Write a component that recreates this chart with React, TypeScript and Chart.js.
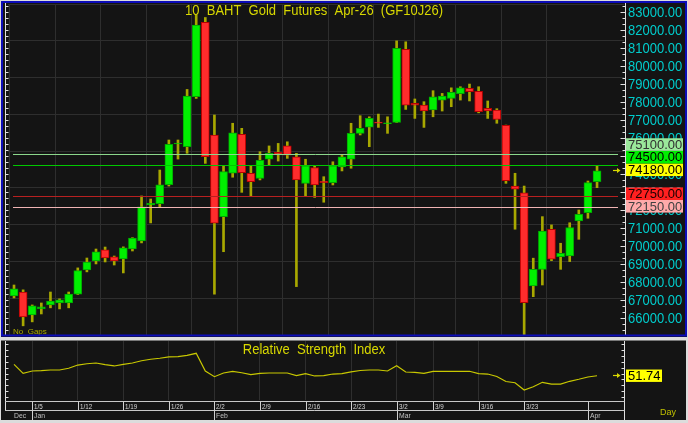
import React, { useEffect, useRef } from 'react';
import { Chart, registerables } from 'chart.js';

Chart.register(...registerables);

// ---------------- DATA ----------------
const dates = ['12/29','12/30','1/5','1/6','1/7','1/8','1/9','1/12','1/13','1/14','1/15','1/16','1/19','1/20','1/21','1/22','1/23','1/26','1/27','1/28','1/29','1/30','2/2','2/3','2/4','2/5','2/6','2/9','2/10','2/11','2/12','2/13','2/16','2/17','2/18','2/19','2/20','2/23','2/24','2/25','2/26','2/27','3/2','3/4','3/5','3/6','3/9','3/10','3/11','3/12','3/13','3/16','3/17','3/18','3/19','3/20','3/23','3/24','3/25','3/26','3/27','3/30','3/31','4/1','4/2'];

const opens = [67220,67440,66170,66500,66720,66830,66830,67320,68670,69170,69780,69390,69280,69830,70280,72280,72350,73400,75670,75520,78300,82430,76170,71630,74040,76200,74040,73760,74820,75200,75560,74960,73480,74350,73610,73520,74400,74820,76260,76610,76890,76800,76870,80930,77930,77830,77560,78110,78200,78460,78760,78590,77650,77560,76700,73330,72960,67780,68700,70930,69400,69440,71390,71850,73570];
const highs = [67830,67560,66720,66830,67440,67060,67440,68780,69330,69830,69940,69440,69950,70460,72780,72610,74220,75890,75890,78700,82830,82700,77280,74460,76820,76540,74440,75240,75560,75700,75790,75150,74820,74440,73850,74680,75050,76820,77240,77180,77330,77180,81400,81350,78170,78020,78630,78480,78790,78850,79000,78850,78060,77630,76720,74040,73330,69320,71630,71170,70150,71290,72000,73610,74440];
const lows = [67110,65560,65780,66220,66560,66500,66560,67300,68560,69000,69110,68940,68500,69720,70170,71280,72130,73330,74830,75150,78200,74590,67320,69680,73820,72980,72790,73670,74500,74720,74870,67740,72790,72700,72430,73390,74170,74320,76170,75520,76590,76260,76860,77590,77090,76590,77180,77500,77740,78110,78060,77400,77090,76820,73480,70930,65050,67180,67830,69180,68700,69130,70370,71540,73240];
const closes = [67610,66060,66670,66610,66940,67000,67330,68630,69110,69670,69330,69170,69890,70440,72180,72370,73400,75650,75720,78330,82280,74960,71260,74130,76290,74070,73570,74760,75150,75090,75040,73670,74460,73390,73520,74460,74960,76260,76540,77090,76820,76850,80980,77830,77820,77500,78290,78330,78540,78790,78570,77460,77500,77040,73630,73150,66850,68700,70830,69260,69590,71020,71760,73520,74180];

const rsi = [67.6,55.1,58.3,58.7,59.7,59.7,62.1,66.6,68.4,69.4,67.1,65.3,67.6,69.4,72.6,74.6,76.0,77.8,78.2,80.1,82.9,58.3,50.4,55.5,57.9,55.9,53.2,55.1,55.5,55.5,55.5,51.8,54.6,51.4,51.8,54.1,54.6,57.0,59.0,59.7,59.7,58.3,65.7,56.9,56.5,55.1,57.9,57.9,57.9,57.9,57.9,54.6,54.1,50.7,43.7,42.0,31.9,36.5,42.6,40.2,40.2,44.0,46.8,50.0,51.74];

const weekTicks = ['1/5','1/12','1/19','1/26','2/2','2/9','2/16','2/23','3/2','3/9','3/16','3/23'];
const monthNames = ['Dec','Jan','Feb','Mar','Apr'];
const monthStarts = ['12/29','1/5','2/2','3/2','4/1'];

const priceTicks = [83000,82000,81000,80000,79000,78000,77000,76000,75000,74000,73000,72000,71000,70000,69000,68000,67000,66000];
const levelValues = [75100, 74500, 72750, 72150];

const title = '10  BAHT  Gold  Futures  Apr-26  (GF10J26)';
const rsiTitle = 'Relative  Strength  Index';
const noGaps = 'No  Gaps';
const periodLabel = 'Day';

// ---------------- STYLE ----------------
const FONT = '"Liberation Sans", Arial, sans-serif';
const C = {
  frame: '#dcdcdc',
  bg: '#141414',
  blue: '#0c0cb8',
  grid: '#2e2e2e',
  up: '#00f000',
  upEdge: '#00a800',
  down: '#ff2c2c',
  downEdge: '#b80000',
  wick: '#a8a800',
  cyan: '#00cccc',
  yellow: '#d8d800',
  axis: '#e0e0e0',
  rsiLine: '#c8c800',
};
const levelStyles = [
  { line: '#8cd88c', box: '#9ae89a', text: '#303030' },
  { line: '#00c800', box: '#00ee00', text: '#000000' },
  { line: '#b82020', box: '#ff2020', text: '#1a0000' },
  { line: '#f0b4b4', box: '#ffaaaa', text: '#404040' },
];

const X_MIN = -0.66;
const X_MAX = 66.96;
const weekIdx = weekTicks.map((d) => dates.indexOf(d));
const monthIdx = monthStarts.map((d) => dates.indexOf(d));

function drawText(ctx: CanvasRenderingContext2D, s: string, x: number, y: number, size: number, color: string, align: CanvasTextAlign = 'left', sy = 1.1, sx = 1) {
  ctx.save();
  ctx.font = `${size}px ${FONT}`;
  ctx.fillStyle = color;
  ctx.textAlign = align;
  ctx.textBaseline = 'middle';
  ctx.translate(x, y);
  ctx.scale(sx, sy);
  ctx.fillText(s, 0, 0);
  ctx.restore();
}
function hline(ctx: CanvasRenderingContext2D, x1: number, x2: number, y: number, color: string, w = 1) {
  ctx.save();
  ctx.strokeStyle = color;
  ctx.lineWidth = w;
  ctx.beginPath();
  ctx.moveTo(x1, y);
  ctx.lineTo(x2, y);
  ctx.stroke();
  ctx.restore();
}
function vline(ctx: CanvasRenderingContext2D, x: number, y1: number, y2: number, color: string, w = 1) {
  ctx.save();
  ctx.strokeStyle = color;
  ctx.lineWidth = w;
  ctx.beginPath();
  ctx.moveTo(x, y1);
  ctx.lineTo(x, y2);
  ctx.stroke();
  ctx.restore();
}
function arrow(ctx: CanvasRenderingContext2D, x: number, y: number, color: string) {
  hline(ctx, x - 4, x + 1, y, color, 1.2);
  ctx.save();
  ctx.fillStyle = color;
  ctx.beginPath();
  ctx.moveTo(x, y - 2.5);
  ctx.lineTo(x + 3.5, y);
  ctx.lineTo(x, y + 2.5);
  ctx.closePath();
  ctx.fill();
  ctx.restore();
}

function xScaleOptions() {
  return {
    type: 'linear' as const,
    min: X_MIN,
    max: X_MAX,
    offset: false,
    afterBuildTicks: (s: any) => {
      s.ticks = weekIdx.map((v) => ({ value: v }));
    },
    grid: { color: C.grid, lineWidth: 1, drawTicks: false },
    border: { display: false },
    ticks: { display: false },
  };
}

// ---------------- MAIN CHART ----------------
const mainPlugin = {
  id: 'mainDecor',
  beforeDraw(chart: any) {
    const ctx = chart.ctx as CanvasRenderingContext2D;
    ctx.save();
    ctx.fillStyle = C.frame;
    ctx.fillRect(0, 0, chart.width, chart.height);
    ctx.fillStyle = C.bg;
    ctx.fillRect(1, 1, chart.width - 2, 336);
    ctx.restore();
  },
  afterDatasetsDraw(chart: any) {
    const ctx = chart.ctx as CanvasRenderingContext2D;
    const y = chart.scales.y;
    levelValues.forEach((v, i) => {
      const py = Math.round(y.getPixelForValue(v)) + 0.5;
      hline(ctx, 13, 618, py, levelStyles[i].line, 1);
    });
  },
  afterDraw(chart: any) {
    const ctx = chart.ctx as CanvasRenderingContext2D;
    const y = chart.scales.y;
    const area = chart.chartArea;
    // axes
    vline(ctx, 5.5, 3, area.bottom, C.axis, 1);
    vline(ctx, 625.5, 3, area.bottom, C.axis, 1);
    for (let v = 65000; v <= 83500; v += 1000 / 3) {
      const py = Math.round(y.getPixelForValue(v)) + 0.5;
      if (py < 4 || py > area.bottom) continue;
      const major = Math.abs(v / 1000 - Math.round(v / 1000)) < 0.01;
      hline(ctx, 5.5, 8.5, py, C.axis, 1);
      hline(ctx, major ? 620.5 : 622.5, 625.5, py, C.axis, 1);
    }
    // price labels
    priceTicks.forEach((v) => {
      drawText(ctx, v.toFixed(2), 628, y.getPixelForValue(v) + 1, 13, C.cyan, 'left', 1.08);
    });
    // level boxes
    const lastClose = closes[closes.length - 1];
    const boxes = [
      ...levelValues.map((v, i) => ({ v, bg: levelStyles[i].box, fg: levelStyles[i].text })),
      { v: lastClose, bg: '#ffff00', fg: '#000000' },
    ].sort((a, b) => a.v - b.v);
    let prevTop = Infinity;
    const h = 12.6;
    boxes.forEach((b) => {
      const py = y.getPixelForValue(b.v) - 1;
      let bottom = py + h / 2;
      if (bottom > prevTop) bottom = prevTop;
      const top = bottom - h;
      ctx.fillStyle = b.bg;
      ctx.fillRect(626, top, 57, h);
      drawText(ctx, b.v.toFixed(2), 628, top + h / 2 + 0.5, 13, b.fg, 'left', 1.05);
      prevTop = top;
    });
    arrow(ctx, 617, Math.round(y.getPixelForValue(lastClose)) - 0.5, C.yellow);
    // title
    drawText(ctx, title, 314, 10.5, 13, C.yellow, 'center', 1.15);
    drawText(ctx, noGaps, 13, 332, 8, '#a8a800', 'left', 1.0);
    // blue frame
    ctx.save();
    ctx.strokeStyle = C.blue;
    ctx.lineWidth = 2;
    ctx.strokeRect(2, 2, 684, 333.5);
    ctx.restore();
  },
};

function mainConfig(): any {
  return {
    type: 'bar',
    data: {
      datasets: [
        {
          label: 'body',
          data: dates.map((_, i) => ({ x: i, y: [opens[i], closes[i]] })),
          backgroundColor: closes.map((c, i) => (c >= opens[i] ? C.up : C.down)),
          borderColor: closes.map((c, i) => (c >= opens[i] ? C.upEdge : C.downEdge)),
          borderWidth: 1,
          borderSkipped: false,
          barThickness: 8,
          grouped: false,
        },
        {
          label: 'wick',
          data: dates.map((_, i) => ({ x: i, y: [lows[i], highs[i]] })),
          backgroundColor: C.wick,
          borderWidth: 0,
          barThickness: 2,
          grouped: false,
        },
      ],
    },
    options: {
      responsive: false,
      devicePixelRatio: 1,
      animation: false,
      events: [],
      layout: { padding: { left: 8, right: 64, top: 4, bottom: 3 } },
      plugins: { legend: { display: false }, tooltip: { enabled: false }, title: { display: false } },
      scales: {
        x: xScaleOptions(),
        y: {
          type: 'linear',
          min: 65050,
          max: 83450,
          grid: { color: C.grid, lineWidth: 1, drawTicks: false },
          border: { display: false },
          ticks: { display: false, stepSize: 2000, includeBounds: false },
        },
      },
    },
    plugins: [mainPlugin],
  };
}

// ---------------- RSI CHART ----------------
const rsiPlugin = {
  id: 'rsiDecor',
  beforeDraw(chart: any) {
    const ctx = chart.ctx as CanvasRenderingContext2D;
    ctx.save();
    ctx.fillStyle = C.frame;
    ctx.fillRect(0, 0, chart.width, chart.height);
    ctx.fillStyle = C.bg;
    ctx.fillRect(1, 2.5, 685, 79.5);
    ctx.restore();
  },
  afterDraw(chart: any) {
    const ctx = chart.ctx as CanvasRenderingContext2D;
    const x = chart.scales.x;
    const y = chart.scales.y;
    const area = chart.chartArea;
    // axes
    vline(ctx, 5.5, 3, 72.5, C.axis, 1);
    vline(ctx, 624.5, 3, 82, C.axis, 1);
    for (let py = area.top + 3; py < area.bottom; py += 5.9) {
      const p = Math.round(py) + 0.5;
      hline(ctx, 5.5, 8.5, p, C.axis, 1);
      hline(ctx, 621.5, 624.5, p, C.axis, 1);
    }
    // date axis
    hline(ctx, 5, 624.5, 63.5, '#c8c8c8', 1);
    hline(ctx, 5, 624.5, 72.5, '#c8c8c8', 1);
    weekIdx.forEach((idx, k) => {
      const px = Math.round(x.getPixelForValue(idx)) + 0.5;
      vline(ctx, px, 63.5, 72.5, '#d0d0d0', 1);
      drawText(ctx, weekTicks[k], px + 1.5, 68.5, 8, '#d8d8d8', 'left', 1.0, 0.78);
    });
    monthIdx.forEach((idx, k) => {
      const px = Math.round(x.getPixelForValue(idx)) + 0.5;
      if (k > 0) {
        vline(ctx, px, 63.5, 82, '#d0d0d0', 1);
        drawText(ctx, monthNames[k], px + 1.5, 77.5, 8, '#c0c0c0', 'left', 1.0, 0.85);
      } else {
        drawText(ctx, monthNames[k], 14, 77.5, 8, '#c0c0c0', 'left', 1.0, 0.85);
      }
    });
    // title
    drawText(ctx, rsiTitle, 314, 12, 13, C.yellow, 'center', 1.15);
    // value box
    const last = rsi[rsi.length - 1];
    const py = y.getPixelForValue(last);
    ctx.fillStyle = '#ffff00';
    ctx.fillRect(626, py - 6.2, 36, 12.4);
    drawText(ctx, last.toFixed(2), 628, py + 0.5, 13, '#000000', 'left', 1.05);
    arrow(ctx, 617, Math.round(py) - 0.5, C.yellow);
    drawText(ctx, periodLabel, 660, 74, 9, '#c0c000', 'left', 1.05);
  },
};

function rsiConfig(): any {
  return {
    type: 'line',
    data: {
      datasets: [
        {
          label: 'RSI',
          data: rsi.map((v, i) => ({ x: i, y: v })),
          borderColor: C.rsiLine,
          borderWidth: 1.2,
          pointRadius: 0,
          tension: 0,
          fill: false,
        },
      ],
    },
    options: {
      responsive: false,
      devicePixelRatio: 1,
      animation: false,
      events: [],
      layout: { padding: { left: 8, right: 64, top: 3, bottom: 23 } },
      plugins: { legend: { display: false }, tooltip: { enabled: false }, title: { display: false } },
      scales: {
        x: xScaleOptions(),
        y: {
          type: 'linear',
          min: 18,
          max: 100,
          grid: { display: false, drawTicks: false },
          border: { display: false },
          ticks: { display: false },
        },
      },
    },
    plugins: [rsiPlugin],
  };
}

export default function App() {
  const mainRef = useRef<HTMLCanvasElement>(null);
  const rsiRef = useRef<HTMLCanvasElement>(null);
  useEffect(() => {
    const main = new Chart(mainRef.current as HTMLCanvasElement, mainConfig());
    const r = new Chart(rsiRef.current as HTMLCanvasElement, rsiConfig());
    return () => {
      main.destroy();
      r.destroy();
    };
  }, []);
  return (
    <div style={{ position: 'fixed', left: 0, top: 0, width: 688, height: 423, background: '#dcdcdc', overflow: 'hidden' }}>
      <canvas ref={mainRef} width={688} height={338} style={{ position: 'absolute', left: 0, top: 0, width: 688, height: 338 }} />
      <canvas ref={rsiRef} width={688} height={85} style={{ position: 'absolute', left: 0, top: 338, width: 688, height: 85 }} />
    </div>
  );
}
